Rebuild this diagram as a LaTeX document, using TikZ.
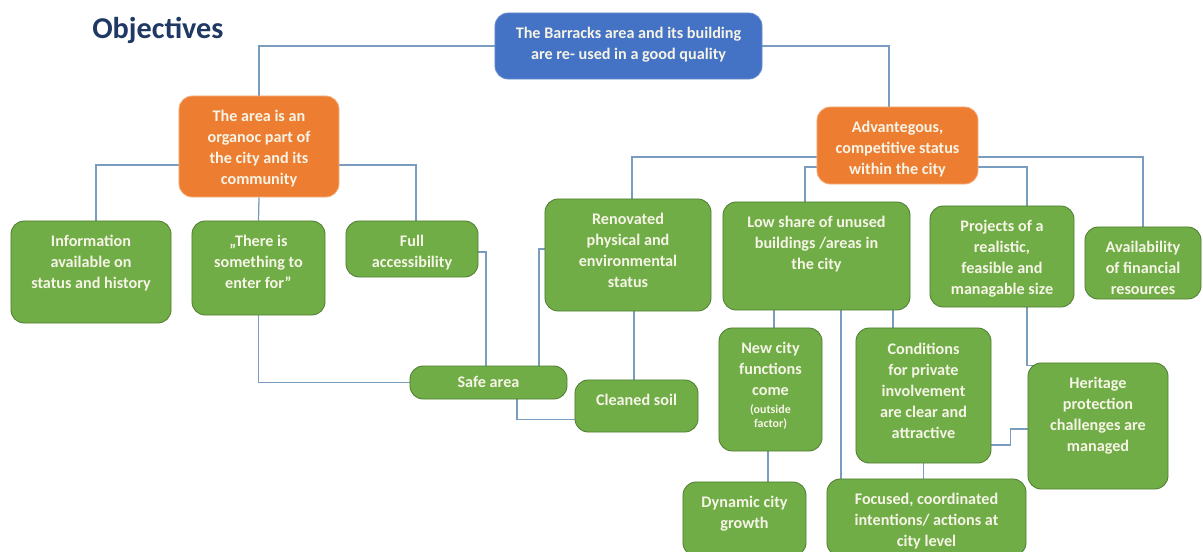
\documentclass[tikz,border=0pt]{standalone}
\usepackage{fontspec}
\setmainfont{Carlito}
\usetikzlibrary{backgrounds}

\definecolor{goalblue}{HTML}{4472C4}
\definecolor{midorange}{HTML}{ED7D31}
\definecolor{leafgreen}{HTML}{70AD47}
\definecolor{leafedge}{HTML}{507E32}
\definecolor{linkblue}{RGB}{122,156,190}
\definecolor{titlenavy}{HTML}{203864}
\definecolor{boxtext}{RGB}{246,244,230}

% text block of a box: width, height, lines (first baseline given by optional arg)
\newcommand{\cell}[4][18pt]{\parbox[c][#3][t]{#2}{\centering\rule{0pt}{#1}#4}}

\tikzset{
	anybox/.style={rounded corners=0.33cm, inner sep=0pt, text=boxtext,
		font=\fontsize{11.5}{15}\selectfont\bfseries},
	goalbox/.style={anybox, fill=goalblue, draw=goalblue!80!white, line width=0.6pt},
	midbox/.style={anybox, fill=midorange, draw=midorange!60!white, line width=0.6pt},
	leafbox/.style={anybox, fill=leafgreen, draw=leafedge, line width=0.6pt},
	link/.style={draw=linkblue, line width=0.9pt}
}

\begin{document}
\begin{tikzpicture}[x=0.025cm, y=-0.025cm]
	\useasboundingbox (0,0) rectangle (1203,552);

	\node[anchor=west, inner sep=0pt, text=titlenavy, font=\fontsize{21.5}{24}\selectfont\bfseries] (title) at (92,30) {Objectives};

	\node[goalbox] (goal) at (628.5,46) {\cell{6.675cm}{1.65cm}{The Barracks area and its building\\are re- used in a good quality}};

	\node[midbox] (area) at (259,146.5) {\cell{4cm}{2.525cm}{The area is an\\organoc part of\\the city and its\\community}};
	\node[midbox] (adv) at (897.5,145.5) {\cell{4.025cm}{1.925cm}{Advantegous,\\competitive status\\within the city}};

	\node[leafbox] (info) at (91,272) {\cell{4cm}{2.55cm}{Information\\available on\\status and history}};
	\node[leafbox] (enter) at (258.5,268) {\cell{3.325cm}{2.35cm}{„There is\\something to\\enter for”}};
	\node[leafbox] (access) at (412,249) {\cell{3.3cm}{1.4cm}{Full\\accessibility}};
	\node[leafbox] (renov) at (628,255) {\cell{4.15cm}{2.8cm}{Renovated\\physical and\\environmental\\status}};
	\node[leafbox] (lowshare) at (816.5,256) {\cell{4.675cm}{2.7cm}{Low share of unused\\buildings /areas in\\the city}};
	\node[leafbox] (projects) at (1002,256.5) {\cell{3.6cm}{2.525cm}{Projects of a\\realistic,\\feasible and\\managable size}};
	\node[leafbox] (finance) at (1143,263) {\cell{2.9cm}{1.8cm}{Availability\\of financial\\resources}};

	\node[leafbox] (safe) at (488.5,382.5) {\cell[15.5pt]{3.925cm}{0.825cm}{Safe area}};
	\node[leafbox] (soil) at (636.5,406) {\cell{3.075cm}{1.3cm}{Cleaned soil}};
	\node[leafbox] (newcity) at (770.5,389.5) {\cell{2.575cm}{3.075cm}{New city\\functions\\come\par\vspace{2pt}\fontsize{8.5}{10.5}\selectfont(outside\\factor)}};
	\node[leafbox] (cond) at (923.5,395.5) {\cell[18.5pt]{3.375cm}{3.375cm}{Conditions\\for private\\involvement\\are clear and\\attractive}};
	\node[leafbox] (heritage) at (1098,426) {\cell{3.5cm}{3.15cm}{Heritage\\protection\\challenges are\\managed}};
	\node[leafbox] (dynamic) at (744.5,519) {\cell{3.075cm}{1.85cm}{Dynamic city\\growth}};
	\node[leafbox] (focused) at (926.5,517.5) {\cell{4.975cm}{1.925cm}{Focused, coordinated\\intentions/ actions at\\city level}};

	\begin{scope}[on background layer]
		\draw[link] (goal.west) -| (area.north);
		\draw[link] (goal.east) -| ([xshift=-0.21cm]adv.north);

		\draw[link] ([yshift=-0.46cm]area.west) -| ([xshift=0.125cm]info.north);
		\draw[link] (area.south) -- (enter.north);
		\draw[link] ([yshift=-0.46cm]area.east) -| ([xshift=0.1cm]access.north);

		\draw[link] ([yshift=-0.29cm]adv.west) -| ([xshift=0.1cm]renov.north);
		\draw[link] ([yshift=-0.54cm]adv.west) -| ([xshift=-0.29cm]lowshare.north);
		\draw[link] ([yshift=-0.54cm]adv.east) -| ([xshift=0.625cm]projects.north);
		\draw[link] ([yshift=-0.29cm]adv.east) -| (finance.north);

		\draw[link] ([yshift=-0.075cm]access.east) -| ([xshift=-0.06cm]safe.north);
		\draw[link] ([yshift=0.15cm]renov.west) -| ([xshift=1.26cm]safe.north);
		\draw[link] (enter.south) |- (safe.west);
		\draw[link] ([xshift=-0.06cm]soil.north |- renov.south) -- ([xshift=-0.06cm]soil.north);
		\draw[link] ([xshift=0.71cm]safe.south) |- ([yshift=-0.33cm]soil.west);

		\draw[link] ([xshift=0.09cm]newcity.north |- lowshare.south) -- ([xshift=0.09cm]newcity.north);
		\draw[link] ([xshift=-2.14cm]focused.north |- lowshare.south) -- ([xshift=-2.14cm]focused.north);
		\draw[link] ([xshift=-0.76cm]cond.north |- lowshare.south) -- ([xshift=-0.76cm]cond.north);
		\draw[link] ([xshift=-0.06cm]newcity.south) -- ([xshift=-0.06cm]newcity.south |- dynamic.north);
		\draw[link] (cond.south) -- (cond.south |- focused.north);
		\draw[link] ([yshift=-1.24cm]cond.east) -- ++(19,0) |- ([yshift=-0.075cm]heritage.west);
		\draw[link] ([xshift=0.625cm]projects.south) |- ([xshift=0.25cm,yshift=-0.08cm]heritage.north west);
	\end{scope}
\end{tikzpicture}
\end{document}
